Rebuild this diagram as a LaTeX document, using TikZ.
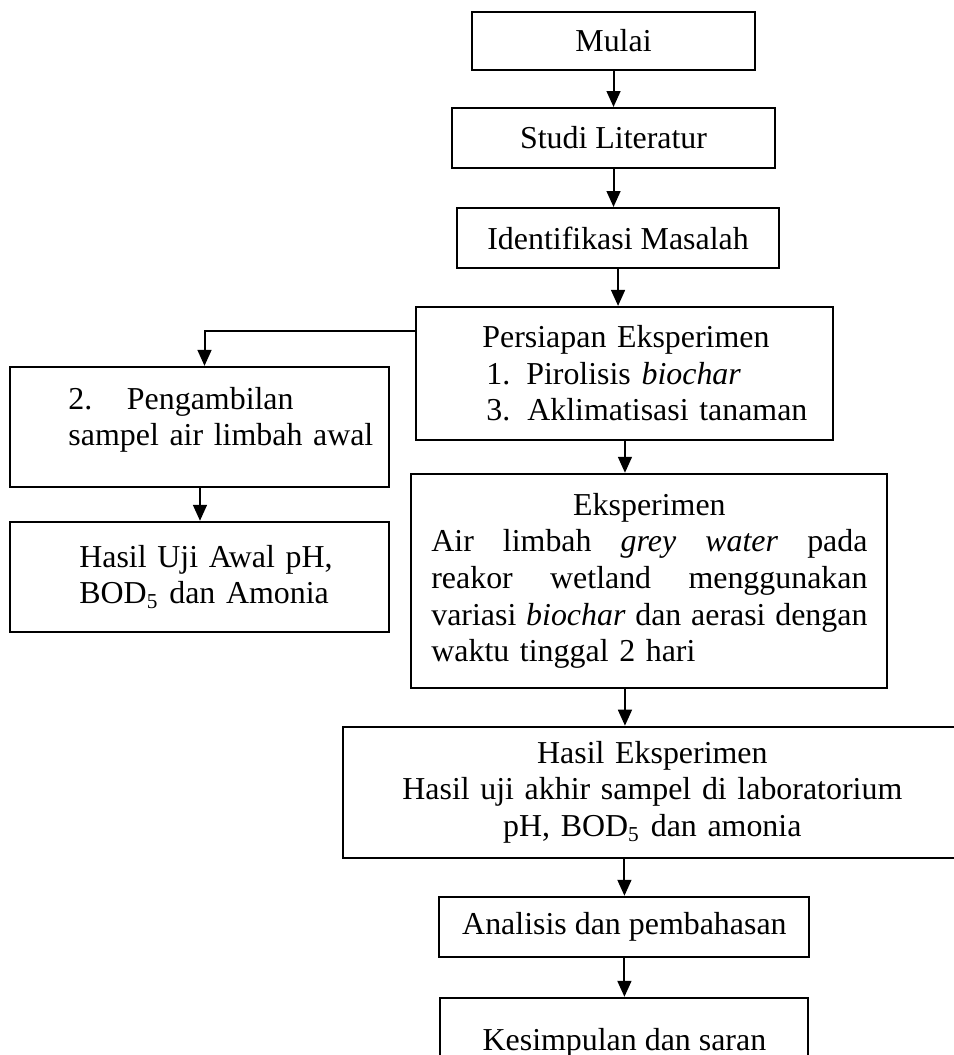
\documentclass[tikz,border=0pt]{standalone}
\usepackage{fontspec}
\setmainfont{Liberation Serif}
\usetikzlibrary{arrows.meta}

\tikzset{
  kotak/.style={draw, line width=0.75pt, inner sep=4pt, font=\fontsize{12}{13.8}\selectfont},
  panah/.style={line width=0.75pt, -{Triangle[length=6pt,width=5.2pt]}}
}

\begin{document}
\begin{tikzpicture}
      \useasboundingbox (-230.7pt,15.4pt) rectangle (127.7pt,-381.3pt);
      \node[kotak, minimum width=106.4pt, minimum height=21.8pt] (mulai) {Mulai};
      \node[kotak, minimum width=121.8pt, minimum height=22.6pt, node distance=36.5pt, below of=mulai] (studi) {Studi Literatur};
      \node[kotak, minimum width=121.4pt, minimum height=22.6pt, node distance=37.6pt, below of=studi, xshift=1.7pt] (identifikasi) {Identifikasi Masalah};
      \node[kotak, text width=148.8pt, align=left, minimum height=50pt, node distance=50.9pt, below of=identifikasi, xshift=2.6pt] (persiapan)
        {\hspace*{20.8pt}Persiapan Eksperimen\\
         \hspace*{22.3pt}1. Pirolisis \textit{biochar}\\
         \hspace*{22.3pt}3.\hspace{6.4pt}Aklimatisasi tanaman};
      \node[kotak, text width=134.5pt, align=left, minimum height=45.1pt, node distance=20.1pt, below of=persiapan, xshift=-159.8pt] (pengambilan)
        {\hspace*{17.8pt}2.\hspace{13pt}Pengambilan\\
         \hspace*{17.8pt}sampel air limbah awal\\[-10pt]\strut};
      \node[kotak, text width=134.5pt, align=left, minimum height=41.4pt, node distance=56.4pt, below of=pengambilan] (hasiluji)
        {\hspace*{21.9pt}Hasil Uji Awal pH,\\
         \hspace*{21.9pt}BOD\textsubscript{5} dan Amonia};
      \node[kotak, text width=164pt, inner xsep=7.5pt, align=center, minimum height=80.5pt, node distance=78pt, below of=persiapan, xshift=9.2pt] (eksperimen)
        {Eksperimen\\
         \makebox[164pt][l]{Air\hfill limbah\hfill \textit{grey}\hfill \textit{water}\hfill pada}\\
         \makebox[164pt][l]{reakor\hfill wetland\hfill menggunakan}\\
         \makebox[164pt][l]{variasi\hfill \textit{biochar}\hfill dan\hfill aerasi\hfill dengan}\\
         \makebox[164pt][l]{waktu tinggal 2 hari}};
      \node[kotak, text width=225pt, align=center, minimum height=49.3pt, node distance=79.5pt, below of=eksperimen, xshift=1.1pt] (hasileks)
        {Hasil Eksperimen\\
         Hasil uji akhir sampel di laboratorium\\
         pH, BOD\textsubscript{5} dan amonia};
      \node[kotak, minimum width=139.1pt, minimum height=22.6pt, node distance=50.6pt, below of=hasileks, xshift=-10.5pt] (analisis) {Analisis dan pembahasan};
      \node[kotak, minimum width=138.4pt, minimum height=33.8pt, node distance=43.6pt, below of=analisis] (kesimpulan) {Kesimpulan dan saran};

      \coordinate (belok) at ([yshift=-9.4pt]persiapan.north west);

      \draw[panah] (mulai.south) -- (mulai.south |- studi.north);
      \draw[panah] (studi.south) -- (studi.south |- identifikasi.north);
      \draw[panah] (identifikasi.south) -- (identifikasi.south |- persiapan.north);
      \draw[panah] (persiapan.south) -- (persiapan.south |- eksperimen.north);
      \draw[panah] (belok) -| ([xshift=1.7pt]pengambilan.north);
      \draw[panah] (pengambilan.south) -- (hasiluji.north);
      \draw[panah] (eksperimen.south -| persiapan.south) -- (persiapan.south |- hasileks.north);
      \draw[panah] (hasileks.south -| analisis.north) -- (analisis.north);
      \draw[panah] (analisis.south) -- (analisis.south |- kesimpulan.north);
\end{tikzpicture}
\end{document}
